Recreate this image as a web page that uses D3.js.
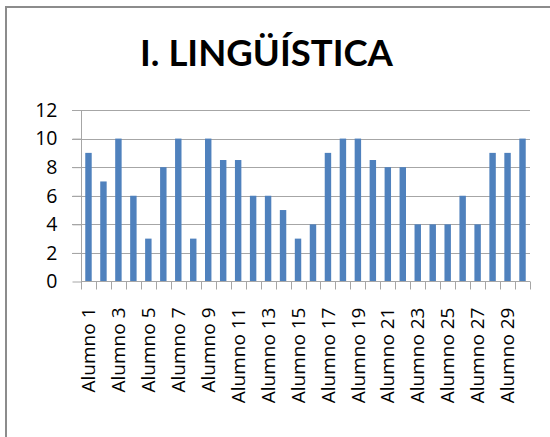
<!DOCTYPE html>
<html><head><meta charset="utf-8">
<script src="https://cdn.jsdelivr.net/npm/d3@7"></script>
<style>html,body{margin:0;padding:0;background:#fff;}svg{display:block;}</style>
</head><body>
<svg id="chart" width="550" height="437"></svg>
<script>
const title = "I. LINGÜÍSTICA";
const categories = Array.from({length:30}, (_, i) => "Alumno " + (i + 1));
const values = [9,7,10,6,3,8,10,3,10,8.5,8.5,6,6,5,3,4,9,10,10,8.5,8,8,4,4,4,6,4,9,9,10];
const yTicks = [0,2,4,6,8,10,12];

const svg = d3.select("#chart");

// frame
svg.append("line").attr("x1",6).attr("x2",550).attr("y1",7).attr("y2",7).attr("stroke","#8c8c8c").attr("stroke-width",2);
svg.append("line").attr("x1",6).attr("x2",6).attr("y1",6).attr("y2",437).attr("stroke","#8c8c8c").attr("stroke-width",2);

svg.append("text").attr("x",266.5).attr("y",66).attr("text-anchor","middle")
  .attr("font-family","Lato, 'Open Sans', sans-serif").attr("font-weight","bold").attr("font-size",36.5)
  .attr("fill","#000").text(title);

const x = d3.scaleBand().domain(categories).range([81,530]).paddingInner(0.57).paddingOuter(0.285);
const y = d3.scaleLinear().domain([0,12]).range([281.5,110]);

// gridlines
const g = svg.append("g");
g.selectAll("line.grid").data(yTicks.filter(t=>t>0)).join("line")
  .attr("x1",72).attr("x2",530).attr("y1",d=>Math.round(y(d))+0.5).attr("y2",d=>Math.round(y(d))+0.5)
  .attr("stroke","#a6a6a6").attr("stroke-width",1);

// bars
g.selectAll("rect").data(values).join("rect")
  .attr("x",(d,i)=>x(categories[i])).attr("width",x.bandwidth())
  .attr("y",d=>y(d)).attr("height",d=>y(0)-y(d))
  .attr("fill","#4f81bd");

// y axis
const yAxis = d3.axisLeft(y).tickValues(yTicks).tickSize(9).tickPadding(15).tickFormat(d3.format("d"));
const ya = svg.append("g").attr("transform","translate(81.5,0)").call(yAxis);
ya.select(".domain").attr("stroke","#a6a6a6").attr("d","M0,110V282");
ya.selectAll(".tick line").attr("stroke","#a6a6a6");
ya.selectAll(".tick text").attr("font-family","'Open Sans', Lato, sans-serif").attr("font-size",19.5).attr("fill","#000");

// x axis
const xAxis = d3.axisBottom(x).tickSize(0).tickFormat(d => d);
const xa = svg.append("g").attr("transform","translate(0,281.5)").call(xAxis);
xa.select(".domain").attr("stroke","#a6a6a6").attr("d","M81,0H530");
// boundary ticks
const bounds = d3.range(31).map(i => 81 + i*(449/30));
xa.selectAll("line.bt").data(bounds).join("line").attr("class","bt")
  .attr("x1",d=>Math.round(d)+0.5).attr("x2",d=>Math.round(d)+0.5).attr("y1",0).attr("y2",8)
  .attr("stroke","#a6a6a6");
xa.selectAll(".tick").each(function(d,i){ if(i%2===1) d3.select(this).select("text").remove(); });
xa.selectAll(".tick text")
  .attr("font-family","'Open Sans', Lato, sans-serif").attr("font-size",19).attr("fill","#000")
  .attr("transform","rotate(-90)").attr("text-anchor","end").attr("dy","0.35em")
  .attr("x",-26).attr("y",0);
</script>
</body></html>
